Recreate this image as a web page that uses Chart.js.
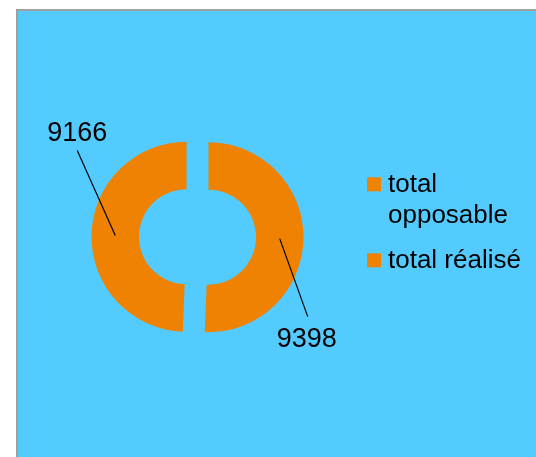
<!DOCTYPE html>
<html>
<head>
<meta charset="utf-8">
<script src="https://cdn.jsdelivr.net/npm/chart.js@4.4.0/dist/chart.umd.min.js"></script>
<style>
  html, body { margin: 0; padding: 0; background: #fff; }
  #cadre { position: absolute; left: 0; top: 0; width: 536px; height: 457px; }
</style>
</head>
<body>
<div id="cadre"><canvas id="graphique"></canvas></div>
<script>
const categories = ['total opposable', 'total réalisé'];
const valeurs = [9398, 9166];
const couleurs = ['#ef8200', '#ef8200'];

// fond bleu du graphique avec le filet gris en haut et à gauche
const fond = {
    id: 'fond',
    beforeDraw(chart) {
        const ctx = chart.ctx;
        ctx.save();
        ctx.fillStyle = '#a0a0a0';
        ctx.fillRect(16, 9, chart.width - 16, chart.height - 9);
        ctx.fillStyle = '#54cbff';
        ctx.fillRect(18, 11, chart.width - 18, chart.height - 11);
        ctx.restore();
    }
};

// secteurs éclatés : chaque arc est décalé le long de sa bissectrice
const eclate = {
    id: 'eclate',
    beforeDatasetDraw(chart, args, opts) {
        const ctx = chart.ctx;
        args.meta.data.forEach(arc => {
            const mid = (arc.startAngle + arc.endAngle) / 2;
            ctx.save();
            ctx.translate(Math.cos(mid) * opts.distance, Math.sin(mid) * opts.distance);
            arc.draw(ctx);
            ctx.restore();
        });
        return false;
    }
};

// étiquettes de valeurs avec traits de rappel
const etiquettes = {
    id: 'etiquettes',
    afterDatasetsDraw(chart, args, opts) {
        const ctx = chart.ctx;
        const meta = chart.getDatasetMeta(0);
        const dist = chart.options.plugins.eclate.distance;
        ctx.save();
        ctx.font = opts.font;
        ctx.fillStyle = '#000';
        ctx.strokeStyle = '#000';
        ctx.lineWidth = 1.2;
        ctx.textAlign = 'center';
        ctx.textBaseline = 'alphabetic';
        meta.data.forEach((arc, i) => {
            const mid = (arc.startAngle + arc.endAngle) / 2;
            const c = arc.getCenterPoint();
            const x = c.x + Math.cos(mid) * dist;
            const y = c.y + Math.sin(mid) * dist;
            const [lx, ly] = opts.traits[i];
            const [tx, ty] = opts.textes[i];
            ctx.beginPath();
            ctx.moveTo(x, y);
            ctx.lineTo(x + lx, y + ly);
            ctx.stroke();
            ctx.fillText(String(valeurs[i]), x + tx, y + ty);
        });
        ctx.restore();
    }
};

function couper(ctx, texte, largeur) {
    const mots = texte.split(' ');
    const lignes = [];
    let ligne = '';
    mots.forEach(m => {
        const essai = ligne ? ligne + ' ' + m : m;
        if (ligne && ctx.measureText(essai).width > largeur) {
            lignes.push(ligne);
            ligne = m;
        } else {
            ligne = essai;
        }
    });
    lignes.push(ligne);
    return lignes;
}

// légende à droite, libellés coupés sur plusieurs lignes
const legende = {
    id: 'legende',
    afterDraw(chart, args, opts) {
        const ctx = chart.ctx;
        ctx.save();
        ctx.font = opts.font;
        ctx.textAlign = 'left';
        ctx.textBaseline = 'alphabetic';
        let y = opts.y;
        categories.forEach((cat, i) => {
            const lignes = couper(ctx, cat, opts.largeur);
            ctx.fillStyle = couleurs[i];
            ctx.fillRect(opts.x, y - 14.4, 14, 14);
            ctx.fillStyle = '#000';
            lignes.forEach((l, k) => ctx.fillText(l, opts.x + 21, y + k * opts.interligne));
            y += lignes.length * opts.interligne + opts.ecart;
        });
        ctx.restore();
    }
};

const ctxGraphique = document.getElementById('graphique').getContext('2d');

new Chart(ctxGraphique, {
    type: 'doughnut',
    data: {
        labels: categories,
        datasets: [{
            data: valeurs,
            backgroundColor: couleurs,
            borderWidth: 0,
        }]
    },
    options: {
        responsive: true,
        maintainAspectRatio: false,
        animation: false,
        radius: 95,
        cutout: '50%',
        layout: { padding: { left: 18, right: 159, top: 17, bottom: 0 } },
        plugins: {
            legend: { display: false },
            tooltip: { enabled: false },
            eclate: { distance: 11 },
            etiquettes: {
                font: '27px "Liberation Sans", Arial, sans-serif',
                traits: [[28, 78], [-38, -85]],
                textes: [[27, 108], [-38, -94]],
            },
            legende: {
                font: '26px "Liberation Sans", Arial, sans-serif',
                x: 367,
                y: 191.7,
                largeur: 145,
                interligne: 31,
                ecart: 14,
            },
        }
    },
    plugins: [fond, eclate, etiquettes, legende]
});
</script>
</body>
</html>
